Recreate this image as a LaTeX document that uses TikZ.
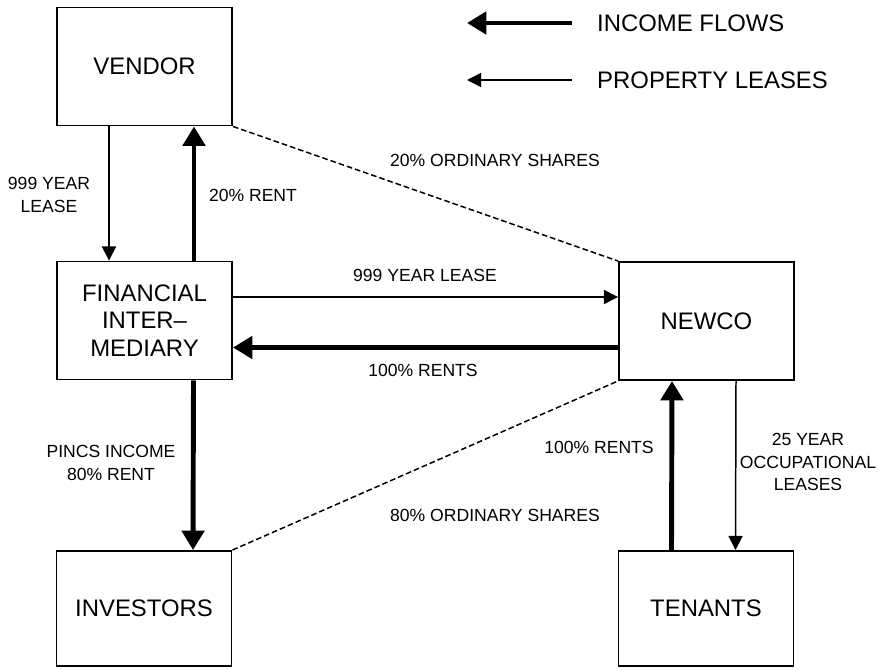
\documentclass[tikz,border=0pt]{standalone}
\usepackage{fontspec}
\setmainfont{Liberation Sans}
\usetikzlibrary{
  positioning,
  arrows.meta
}

\begin{document}
\begin{tikzpicture}[
  every node/.style={align=center},
  party/.style={
    rectangle, draw, line width=1.1pt,
    minimum width=3.5cm, minimum height=2.36cm,
    font=\fontsize{13.6}{15.8}\selectfont
  },
  lowparty/.style={party, minimum height=2.30cm},
  keytext/.style={anchor=west, font=\fontsize{13.6}{15.8}\selectfont},
  flowlabel/.style={font=\fontsize{10}{12.8}\selectfont},
  lease/.style={-{Triangle[length=8pt, width=8pt]}, line width=0.85pt},
  income/.style={-{Triangle[length=11pt, width=12.5pt]}, line width=2.8pt},
  shares/.style={line width=0.85pt, dash pattern=on 3.2pt off 1.7pt}
]
 \useasboundingbox (0,0) rectangle (17.58,13.38);

 % Key
 \node[keytext] (incomekey) at (11.82,12.92) {INCOME FLOWS};
 \node[keytext] (leasekey)  at (11.82,11.78) {PROPERTY LEASES};
 \draw[income] ([xshift=-0.38cm]incomekey.west) -- ++(-2.1,0);
 \draw[lease]  ([xshift=-0.38cm]leasekey.west) -- ++(-2.1,0);

 % Parties
 \node[party]    (vendor)    at ( 2.89,12.05) {VENDOR};
 \node[party]    (fin)       at ( 2.89, 6.97) {FINANCIAL\\INTER--\\MEDIARY};
 \node[party]    (newco)     at (14.13, 6.96) {NEWCO};
 \node[lowparty] (investors) at ( 2.88, 1.21) {INVESTORS};
 \node[lowparty] (tenants)   at (14.12, 1.21) {TENANTS};

 % Vendor <-> financial intermediary
 \draw[lease]  ([xshift=-0.71cm]vendor.south) -- ([xshift=-0.71cm]fin.north);
 \draw[income] ([xshift=0.99cm]fin.north) -- ([xshift=0.99cm]vendor.south);
 \node[flowlabel] (l999) at (0.98,9.48) {999 YEAR\\LEASE};
 \node[flowlabel] (l20)  at (5.06,9.48) {20\% RENT};

 % Financial intermediary <-> Newco
 \draw[lease]  ([yshift=0.47cm]fin.east) -- ([yshift=0.47cm]fin.east -| newco.west);
 \draw[income] ([yshift=-0.53cm]newco.west) -- ([yshift=-0.53cm]newco.west -| fin.east);
 \node[flowlabel] (lnewlease) at (8.50,7.88) {999 YEAR LEASE};
 \node[flowlabel] (lallrents) at (8.46,5.98) {100\% RENTS};

 % Shareholdings in Newco
 \draw[shares] (vendor.south east) -- (newco.north west);
 \draw[shares] (investors.north east) -- (newco.south west);
 \node[flowlabel] (lsh20) at (9.90,10.18) {20\% ORDINARY SHARES};
 \node[flowlabel] (lsh80) at (9.90, 3.08) {80\% ORDINARY SHARES};

 % Financial intermediary -> investors
 \draw[income] ([xshift=0.98cm]fin.south) -- ([xshift=0.98cm]investors.north);
 \node[flowlabel] (lpincs) at (2.22,4.12) {PINCS INCOME\\80\% RENT};

 % Newco <-> tenants
 \draw[income] ([xshift=-0.69cm]tenants.north) -- ([xshift=-0.69cm]newco.south);
 \draw[lease]  ([xshift=0.59cm]newco.south) -- ([xshift=0.59cm]tenants.north);
 \node[flowlabel] (ltenrents) at (11.98,4.44) {100\% RENTS};
 \node[flowlabel] (loccup)    at (16.16,4.14) {25 YEAR\\OCCUPATIONAL\\LEASES};
\end{tikzpicture}
\end{document}
